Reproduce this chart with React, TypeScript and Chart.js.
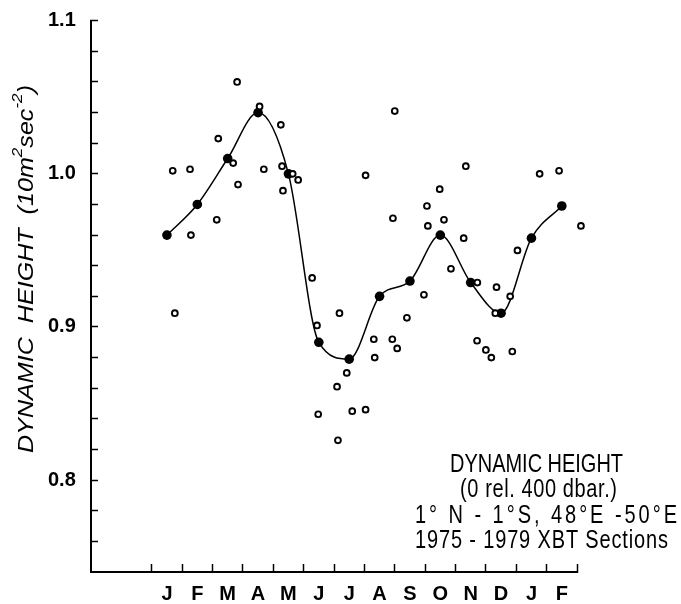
import React, { useEffect, useRef } from 'react';
import { Chart, registerables } from 'chart.js';

Chart.register(...registerables);

// ---- data ----
const monthLabels = ['J', 'F', 'M', 'A', 'M', 'J', 'J', 'A', 'S', 'O', 'N', 'D', 'J', 'F'];
const monthCenters = [0.5, 1.5, 2.5, 3.5, 4.5, 5.5, 6.5, 7.5, 8.5, 9.5, 10.5, 11.5, 12.5, 13.5];
const monthBoundaries = [0, 1, 2, 3, 4, 5, 6, 7, 8, 9, 10, 11, 12, 13, 14];
const meanValues = [0.96, 0.98, 1.01, 1.04, 1.0, 0.89, 0.879, 0.92, 0.93, 0.96, 0.929, 0.909, 0.958, 0.979];

const obsMonth = [
  0.69, 0.76, 1.26, 1.29, 2.14, 2.19, 2.68, 2.81, 2.84, 3.55, 3.69, 4.25, 4.29, 4.32, 4.64, 4.82,
  5.28, 5.44, 5.48, 6.1, 6.13, 6.18, 6.42, 6.6, 7.04, 7.04, 7.31, 7.34, 7.92, 7.94, 8.0, 8.08,
  8.4, 8.96, 9.06, 9.09, 9.48, 9.62, 9.85, 10.27, 10.34, 10.71, 10.72, 11.0, 11.18, 11.31, 11.35,
  11.8, 11.87, 12.04, 12.77, 13.41, 14.13,
];
const obsValue = [
  1.002, 0.909, 1.003, 0.96, 0.97, 1.023, 1.007, 1.06, 0.993, 1.044, 1.003, 1.032, 1.005, 0.989, 1.0, 0.996,
  0.932, 0.901, 0.843, 0.861, 0.826, 0.909, 0.87, 0.845, 0.846, 0.999, 0.892, 0.88, 0.892, 0.971, 1.041, 0.886,
  0.906, 0.921, 0.979, 0.966, 0.99, 0.97, 0.938, 0.958, 1.005, 0.891, 0.929, 0.885, 0.88, 0.909, 0.926,
  0.92, 0.884, 0.95, 1.0, 1.002, 0.966,
];

const yTickValues = [0.76, 0.78, 0.8, 0.82, 0.84, 0.86, 0.88, 0.9, 0.92, 0.94, 0.96, 0.98, 1.0, 1.02, 1.04, 1.06, 1.08, 1.1];
const yLabelValues = [0.8, 0.9, 1.0, 1.1];

const yTitleParts = [
  { text: 'DYNAMIC  HEIGHT  (10m', sup: false },
  { text: '2', sup: true },
  { text: 'sec', sup: false },
  { text: '-2', sup: true },
  { text: ')', sup: false },
];
const noteLines = ['DYNAMIC HEIGHT', '(0 rel. 400 dbar.)', '1° N - 1°S, 48°E -50°E', '1975 - 1979 XBT Sections'];

// ---- layout / style constants ----
const W = 681;
const H = 604;
const FONT = '"Liberation Sans", Arial, Helvetica, sans-serif';
const notePos = [
  { left: 450, base: 471.5, w: 173 },
  { left: 460, base: 497, w: 157 },
  { left: 415, base: 523, w: 262 },
  { left: 415, base: 548, w: 253 },
];
const titleSpan = { y0: 453, y1: 85, baseX: 33, supRaise: 11 };

function drawFitted(ctx: CanvasRenderingContext2D, text: string, font: string, target: number, sx: number) {
  ctx.font = font;
  (ctx as any).letterSpacing = '0px';
  const w = ctx.measureText(text).width;
  let scale = sx;
  let spacing = 0;
  if (w * sx > target) {
    scale = target / w;
  } else {
    spacing = (target / sx - w) / Math.max(1, text.length - 1);
  }
  ctx.save();
  ctx.scale(scale, 1);
  (ctx as any).letterSpacing = `${spacing}px`;
  ctx.fillText(text, 0, 0);
  ctx.restore();
  (ctx as any).letterSpacing = '0px';
}

const textPlugin = {
  id: 'textPlugin',
  afterDraw(chart: any) {
    const ctx: CanvasRenderingContext2D = chart.ctx;
    ctx.save();
    ctx.fillStyle = '#000';
    ctx.textAlign = 'left';
    ctx.textBaseline = 'alphabetic';
    (ctx as any).letterSpacing = '0px';

    // ---- Y-axis title, rotated, fitted to its span ----
    const mainFont = `italic 22px ${FONT}`;
    const supFont = `italic 15px ${FONT}`;
    let natural = 0;
    const widths = yTitleParts.map((p) => {
      ctx.font = p.sup ? supFont : mainFont;
      const w = ctx.measureText(p.text).width;
      natural += w;
      return w;
    });
    const target = titleSpan.y0 - titleSpan.y1;
    ctx.save();
    ctx.translate(titleSpan.baseX, titleSpan.y0);
    ctx.rotate(-Math.PI / 2);
    ctx.scale(target / natural, 1);
    let x = 0;
    yTitleParts.forEach((p, i) => {
      ctx.font = p.sup ? supFont : mainFont;
      ctx.fillText(p.text, x, p.sup ? -titleSpan.supRaise : 0);
      x += widths[i];
    });
    ctx.restore();

    // ---- annotation block ----
    const noteFont = `25px ${FONT}`;
    noteLines.forEach((line, i) => {
      const p = notePos[i];
      ctx.save();
      ctx.translate(p.left, p.base);
      drawFitted(ctx, line, noteFont, p.w, 0.8);
      ctx.restore();
    });
    ctx.restore();
  },
};

export default function App() {
  const ref = useRef<HTMLCanvasElement | null>(null);

  useEffect(() => {
    if (!ref.current) return;
    const chart = new Chart(ref.current, {
      type: 'scatter',
      data: {
        datasets: [
          {
            type: 'line',
            label: 'Monthly mean',
            data: monthCenters.map((m, i) => ({ x: m, y: meanValues[i] })),
            borderColor: '#000',
            backgroundColor: '#000',
            borderWidth: 1.5,
            pointRadius: 4.8,
            pointBorderWidth: 0,
            pointBackgroundColor: '#000',
            cubicInterpolationMode: 'monotone',
            fill: false,
            order: 1,
          } as any,
          {
            type: 'scatter',
            label: 'XBT sections',
            data: obsMonth.map((m, i) => ({ x: m, y: obsValue[i] })),
            pointRadius: 2.9,
            pointBorderWidth: 1.9,
            pointBorderColor: '#000',
            pointBackgroundColor: '#fff',
            showLine: false,
            clip: false,
            order: 0,
          } as any,
        ],
      },
      options: {
        animation: false,
        responsive: false,
        devicePixelRatio: 1,
        layout: { padding: { left: 48, right: W - 577, top: 20.7, bottom: 0 } },
        plugins: { legend: { display: false }, tooltip: { enabled: false } },
        scales: {
          x: {
            type: 'linear',
            position: 'bottom',
            min: -2,
            max: 14,
            afterBuildTicks: (scale: any) => {
              scale.ticks = monthBoundaries.map((v) => ({ value: v }));
            },
            afterFit: (scale: any) => {
              scale.height = 0;
            },
            ticks: { display: false },
            grid: {
              display: true,
              drawOnChartArea: false,
              drawTicks: true,
              tickLength: -8,
              tickColor: '#000',
              tickWidth: 1.5,
            },
            border: { display: true, color: '#000', width: 2 },
          },
          x2: {
            type: 'linear',
            position: 'bottom',
            min: -2,
            max: 14,
            afterBuildTicks: (scale: any) => {
              scale.ticks = monthCenters.map((v) => ({ value: v }));
            },
            afterFit: (scale: any) => {
              scale.height = H - 572;
            },
            ticks: {
              autoSkip: false,
              maxRotation: 0,
              padding: 10,
              color: '#000',
              font: { family: FONT, size: 20, weight: 'bold' },
              callback: (_v: any, i: number) => monthLabels[i],
            },
            grid: { display: false, drawTicks: false },
            border: { display: false },
          },
          y: {
            type: 'linear',
            position: 'left',
            min: 0.74,
            max: 1.1,
            afterBuildTicks: (scale: any) => {
              scale.ticks = yTickValues.map((v) => ({ value: v }));
            },
            afterFit: (scale: any) => {
              scale.width = 43;
            },
            ticks: {
              autoSkip: false,
              padding: 0,
              crossAlign: 'far',
              color: '#000',
              font: { family: FONT, size: 20, weight: 'bold' },
              callback: (v: any) => {
                const hit = yLabelValues.find((l) => Math.abs(l - v) < 1e-6);
                return hit !== undefined ? hit.toFixed(1) : '';
              },
            },
            grid: {
              display: true,
              drawOnChartArea: false,
              drawTicks: true,
              tickLength: -7,
              tickColor: '#000',
              tickWidth: 1.5,
            },
            border: { display: true, color: '#000', width: 2 },
          },
        },
      } as any,
      plugins: [textPlugin],
    });
    return () => chart.destroy();
  }, []);

  return (
    <div style={{ position: 'absolute', left: 0, top: 0, width: W, height: H, background: '#fff' }}>
      <canvas ref={ref} width={W} height={H} style={{ width: W, height: H, display: 'block' }} />
    </div>
  );
}
